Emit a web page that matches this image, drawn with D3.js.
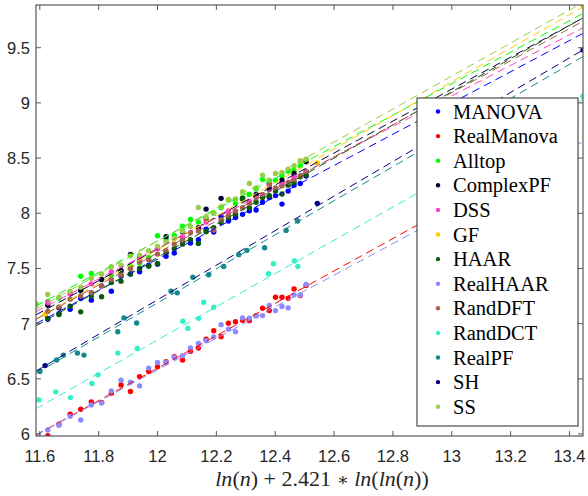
<!DOCTYPE html>
<html>
<head>
<meta charset="utf-8">
<script src="https://cdn.jsdelivr.net/npm/d3@7"></script>
<style>
  body { margin: 0; background: #fff; }
  svg { display: block; }
</style>
</head>
<body>
<div id="chart"></div>
<script>
// x = ln(n) + 2.421*ln(ln(n)), n = 1000, 1030, ..., 1990
const xGrid = [11.587, 11.627, 11.665, 11.703, 11.739, 11.775, 11.810, 11.843, 11.876, 11.908,
               11.939, 11.970, 12.000, 12.029, 12.057, 12.085, 12.112, 12.139, 12.165, 12.191,
               12.216, 12.241, 12.265, 12.289, 12.312, 12.335, 12.357, 12.380, 12.401, 12.423,
               12.444, 12.464, 12.485, 12.505];

const yManova = [null, 7.04, 7.09, 7.13, 7.228, 7.213, 7.342, 7.294, 7.433, 7.45,
                 7.47, 7.53, 7.539, 7.61, 7.64, 7.757, 7.73, 7.76, 7.856, 7.83,
                 7.968, 7.93, 7.962, 7.99, 8.022, 8.03, 8.10, 8.144, 8.16, 8.083,
                 8.201, 8.255, 8.27, 8.337];
const yRealManova = [null, 5.985, 6.088, 6.179, 6.225, 6.291, 6.285, 6.37, 6.445, 6.385,
                     6.52, 6.566, 6.609, 6.655, 6.70, 6.67, 6.75, 6.779, 6.86, 6.936,
                     6.882, 7.003, 7.018, 7.03, 7.027, 7.073, 7.14, 7.118, 7.239, 7.239,
                     7.23, 7.315, 7.255, 7.345];
const yAlltop = [7.18, 7.20, 7.23, 7.27, 7.43, 7.455, 7.40, 7.44, 7.46, 7.52,
                 7.55, 7.60, 7.796, 7.76, 7.80, 7.883, 7.944, 7.92, 7.95, 8.00,
                 8.05, 8.12, 8.09, 8.14, 8.17, 8.22, 8.307, 8.28, 8.30, 8.34,
                 8.38, 8.385, 8.43, 8.488];
const yComplexPF = [null, 7.167, 7.143, null, 7.30, null, 7.40, null, 7.48, 7.627,
                    7.60, null, 7.68, 7.787, null, 7.832, null, 7.87, 8.038, null,
                    8.135, null, null, 8.135, null, 8.17, null, 8.22, null, 8.30,
                    null, 8.36, null, 8.466];
const yDSS = [null, 7.192, null, 7.27, null, 7.36, null, 7.47, null, null,
              7.582, null, 7.68, null, null, 7.787, null, null, 7.92, null,
              null, 8.02, null, null, 8.11, null, null, 8.255, null, 8.264,
              null, 8.33, null, 8.38];
const yHAAR = [null, 7.047, 7.083, 7.158, 7.107, 7.25, 7.243, 7.373, 7.385, 7.45,
               7.50, 7.52, 7.545, 7.642, 7.68, 7.72, 7.76, 7.727, 7.832, 7.87,
               7.917, 7.96, 7.99, 8.128, 8.05, 8.10, 8.144, 8.16, 8.201, 8.174,
               8.255, 8.28, 8.33, 8.346];
const yRealHAAR = [null, 6.036, 6.08, 6.16, 6.127, 6.264, 6.28, 6.39, 6.488, 6.47,
                   6.436, 6.597, 6.648, 6.648, 6.694, 6.71, 6.78, 6.82, 6.845, 6.88,
                   6.991, 6.95, 6.927, 7.052, 7.05, 7.07, 7.073, 7.164, 7.118, 7.155,
                   7.143, 7.261, 7.26, 7.355];
const yRandDFT = [null, 7.11, 7.152, 7.222, 7.25, 7.282, 7.342, 7.40, 7.44, 7.50,
                  7.56, 7.58, 7.63, 7.66, 7.72, 7.757, 7.823, 7.84, 7.953, 7.847,
                  7.94, 7.98, 8.02, 8.05, 8.09, 8.14, 8.17, 8.264, 8.23, 8.25,
                  8.28, 8.307, 8.34, 8.38];
const ySS = [7.17, 7.264, 7.24, 7.294, 7.33, 7.41, 7.45, 7.515, 7.53, 7.614,
             7.62, 7.66, 7.70, 7.74, 7.772, 7.84, 7.88, 8.053, 7.97, 8.00,
             8.06, 8.125, 8.13, 8.195, 8.27, 8.23, 8.346, 8.30, 8.361, 8.37,
             8.40, 8.43, 8.476, 8.49];

// series measured at their own n
const xGF = [11.618, 12.543, 13.446];
const yGF = [7.083, 8.457, 9.88];
const xSH = [11.618, 12.543, 13.446];
const ySH = [6.62, 8.09, 9.48];
const xRealPF = [11.600, 11.657, 11.680, 11.728, 11.750, 11.865, 11.886, 11.929, 12.046, 12.067,
                 12.120, 12.174, 12.225, 12.276, 12.304, 12.364, 12.437, 12.476];
const yRealPF = [6.567, 6.67, 6.715, 6.733, 6.715, 6.927, 7.052, 7.006, 7.294, 7.279,
                 7.421, 7.443, 7.518, 7.625, 7.664, 7.688, 7.845, 7.93];
const xRandDCT = [11.597, 11.654, 11.704, 11.777, 11.798, 11.865, 11.931, 12.086, 12.103, 12.140,
                  12.157, 12.191, 12.377, 12.394, 12.465, 12.477, 13.446];
const yRandDCT = [6.309, 6.382, 6.33, 6.457, 6.536, 6.733, 6.775, 7.021, 6.957, 7.048,
                  7.194, 7.148, 7.452, 7.543, 7.567, 7.518, 9.06];

const seriesNames = ["MANOVA", "RealManova", "Alltop", "ComplexPF", "DSS", "GF", "HAAR",
                     "RealHAAR", "RandDFT", "RandDCT", "RealPF", "SH", "SS"];
const seriesColors = ["#0000ff", "#ff0000", "#00ff00", "#000033", "#ff3ec8", "#ffcc00", "#0a5c0a",
                      "#8c8cff", "#a5614f", "#33f0c8", "#138a8e", "#000080", "#9acd48"];
const seriesX = [xGrid, xGrid, xGrid, xGrid, xGrid, xGF, xGrid, xGrid, xGrid, xRandDCT, xRealPF, xSH, xGrid];
const seriesY = [yManova, yRealManova, yAlltop, yComplexPF, yDSS, yGF, yHAAR, yRealHAAR, yRandDFT,
                 yRandDCT, yRealPF, ySH, ySS];

// dashed fit lines: value at the left and right x limits
const fitLeft  = [7.00, 5.99, 7.16, 7.08, 7.11, 7.04, 6.98, 5.99, 7.04, 6.23, 6.55, 6.57, 7.13];
const fitRight = [9.63, 8.72, 9.81, 9.77, 9.68, 9.87, 9.77, 8.65, 9.74, 9.03, 9.42, 9.48, 9.91];

const xTicks = [11.6, 11.8, 12, 12.2, 12.4, 12.6, 12.8, 13, 13.2, 13.4];
const yTicks = [6, 6.5, 7, 7.5, 8, 8.5, 9, 9.5];
const xLimits = [11.587, 13.446];
const yLimits = [5.982, 9.887];

const width = 588, height = 496;
const plotL = 36, plotR = 583, plotT = 5, plotB = 436;

const svg = d3.select("#chart")
  .append("svg")
  .attr("width", width)
  .attr("height", height);

const x = d3.scaleLinear().domain(xLimits).range([plotL, plotR]);
const y = d3.scaleLinear().domain(yLimits).range([plotB, plotT]);

svg.append("defs").append("clipPath")
  .attr("id", "plot-clip")
  .append("rect")
  .attr("x", plotL).attr("y", plotT)
  .attr("width", plotR - plotL).attr("height", plotB - plotT);

// points
const plot = svg.append("g").attr("clip-path", "url(#plot-clip)");

seriesNames.forEach((name, i) => {
  const pts = seriesX[i].map((xv, j) => [xv, seriesY[i][j]]).filter(d => d[1] != null);
  plot.append("g")
    .selectAll("circle")
    .data(pts)
    .join("circle")
    .attr("cx", d => x(d[0]))
    .attr("cy", d => y(d[1]))
    .attr("r", 2.7)
    .attr("fill", seriesColors[i]);
});

// fit lines
const line = d3.line().x(d => x(d[0])).y(d => y(d[1]));
seriesNames.forEach((name, i) => {
  plot.append("path")
    .datum([[xLimits[0], fitLeft[i]], [xLimits[1], fitRight[i]]])
    .attr("d", line)
    .attr("fill", "none")
    .attr("stroke", seriesColors[i])
    .attr("stroke-width", 1)
    .attr("stroke-dasharray", "8,5");
});

// axes box
const axisColor = "#5a5a5a";
svg.append("rect")
  .attr("x", plotL).attr("y", plotT)
  .attr("width", plotR - plotL).attr("height", plotB - plotT)
  .attr("fill", "none")
  .attr("stroke", axisColor)
  .attr("stroke-width", 1.2);

const tickLen = 5;
const axisG = svg.append("g").attr("stroke", axisColor).attr("stroke-width", 1);
xTicks.forEach(t => {
  axisG.append("line").attr("x1", x(t)).attr("x2", x(t)).attr("y1", plotB).attr("y2", plotB - tickLen);
  axisG.append("line").attr("x1", x(t)).attr("x2", x(t)).attr("y1", plotT).attr("y2", plotT + tickLen);
});
yTicks.forEach(t => {
  axisG.append("line").attr("x1", plotL).attr("x2", plotL + tickLen).attr("y1", y(t)).attr("y2", y(t));
  axisG.append("line").attr("x1", plotR).attr("x2", plotR - tickLen).attr("y1", y(t)).attr("y2", y(t));
});

svg.append("g")
  .selectAll("text")
  .data(xTicks)
  .join("text")
  .attr("x", d => x(d))
  .attr("y", 462)
  .attr("text-anchor", "middle")
  .style("font-family", "'Liberation Sans', Arial, sans-serif")
  .style("font-size", "16.5px")
  .attr("fill", "#262626")
  .text(d => d);

svg.append("g")
  .selectAll("text")
  .data(yTicks)
  .join("text")
  .attr("x", 30)
  .attr("y", d => y(d))
  .attr("dy", "0.36em")
  .attr("text-anchor", "end")
  .style("font-family", "'Liberation Sans', Arial, sans-serif")
  .style("font-size", "16.5px")
  .attr("fill", "#262626")
  .text(d => d);

// x label: ln(n) + 2.421 * ln(ln(n))
const xLabelParts = [["ln", true], ["(", false], ["n", true], [") + 2.421 ", false], ["\u2217", false],
                     [" ", false], ["ln", true], ["(", false], ["ln", true], ["(", false], ["n", true],
                     ["))", false]];
const xLabel = svg.append("text")
  .attr("x", 322)
  .attr("y", 486)
  .attr("text-anchor", "middle")
  .style("font-family", "'Liberation Serif', 'Times New Roman', serif")
  .style("font-size", "22px")
  .attr("fill", "#262626");
xLabelParts.forEach(([t, it]) => {
  const ts = xLabel.append("tspan").style("font-style", it ? "italic" : "normal").text(t);
  if (t === "\u2217") ts.style("font-family", "'DejaVu Serif', serif").style("font-size", "18px");
});

// legend
const legX = 417, legY = 98, legW = 161, legH = 328;
const legend = svg.append("g");
legend.append("rect")
  .attr("x", legX).attr("y", legY)
  .attr("width", legW).attr("height", legH)
  .attr("fill", "#fff")
  .attr("stroke", "#262626")
  .attr("stroke-width", 1);

const legStep = 24.6;
seriesNames.forEach((name, i) => {
  const cy = legY + 13.5 + i * legStep;
  legend.append("circle")
    .attr("cx", legX + 21).attr("cy", cy).attr("r", 2.2)
    .attr("fill", seriesColors[i]);
  legend.append("text")
    .attr("x", legX + 36).attr("y", cy).attr("dy", "0.35em")
    .style("font-family", "'Liberation Serif', 'Times New Roman', serif")
    .style("font-size", "20.5px")
    .attr("fill", "#000")
    .text(name);
});
</script>
</body>
</html>
